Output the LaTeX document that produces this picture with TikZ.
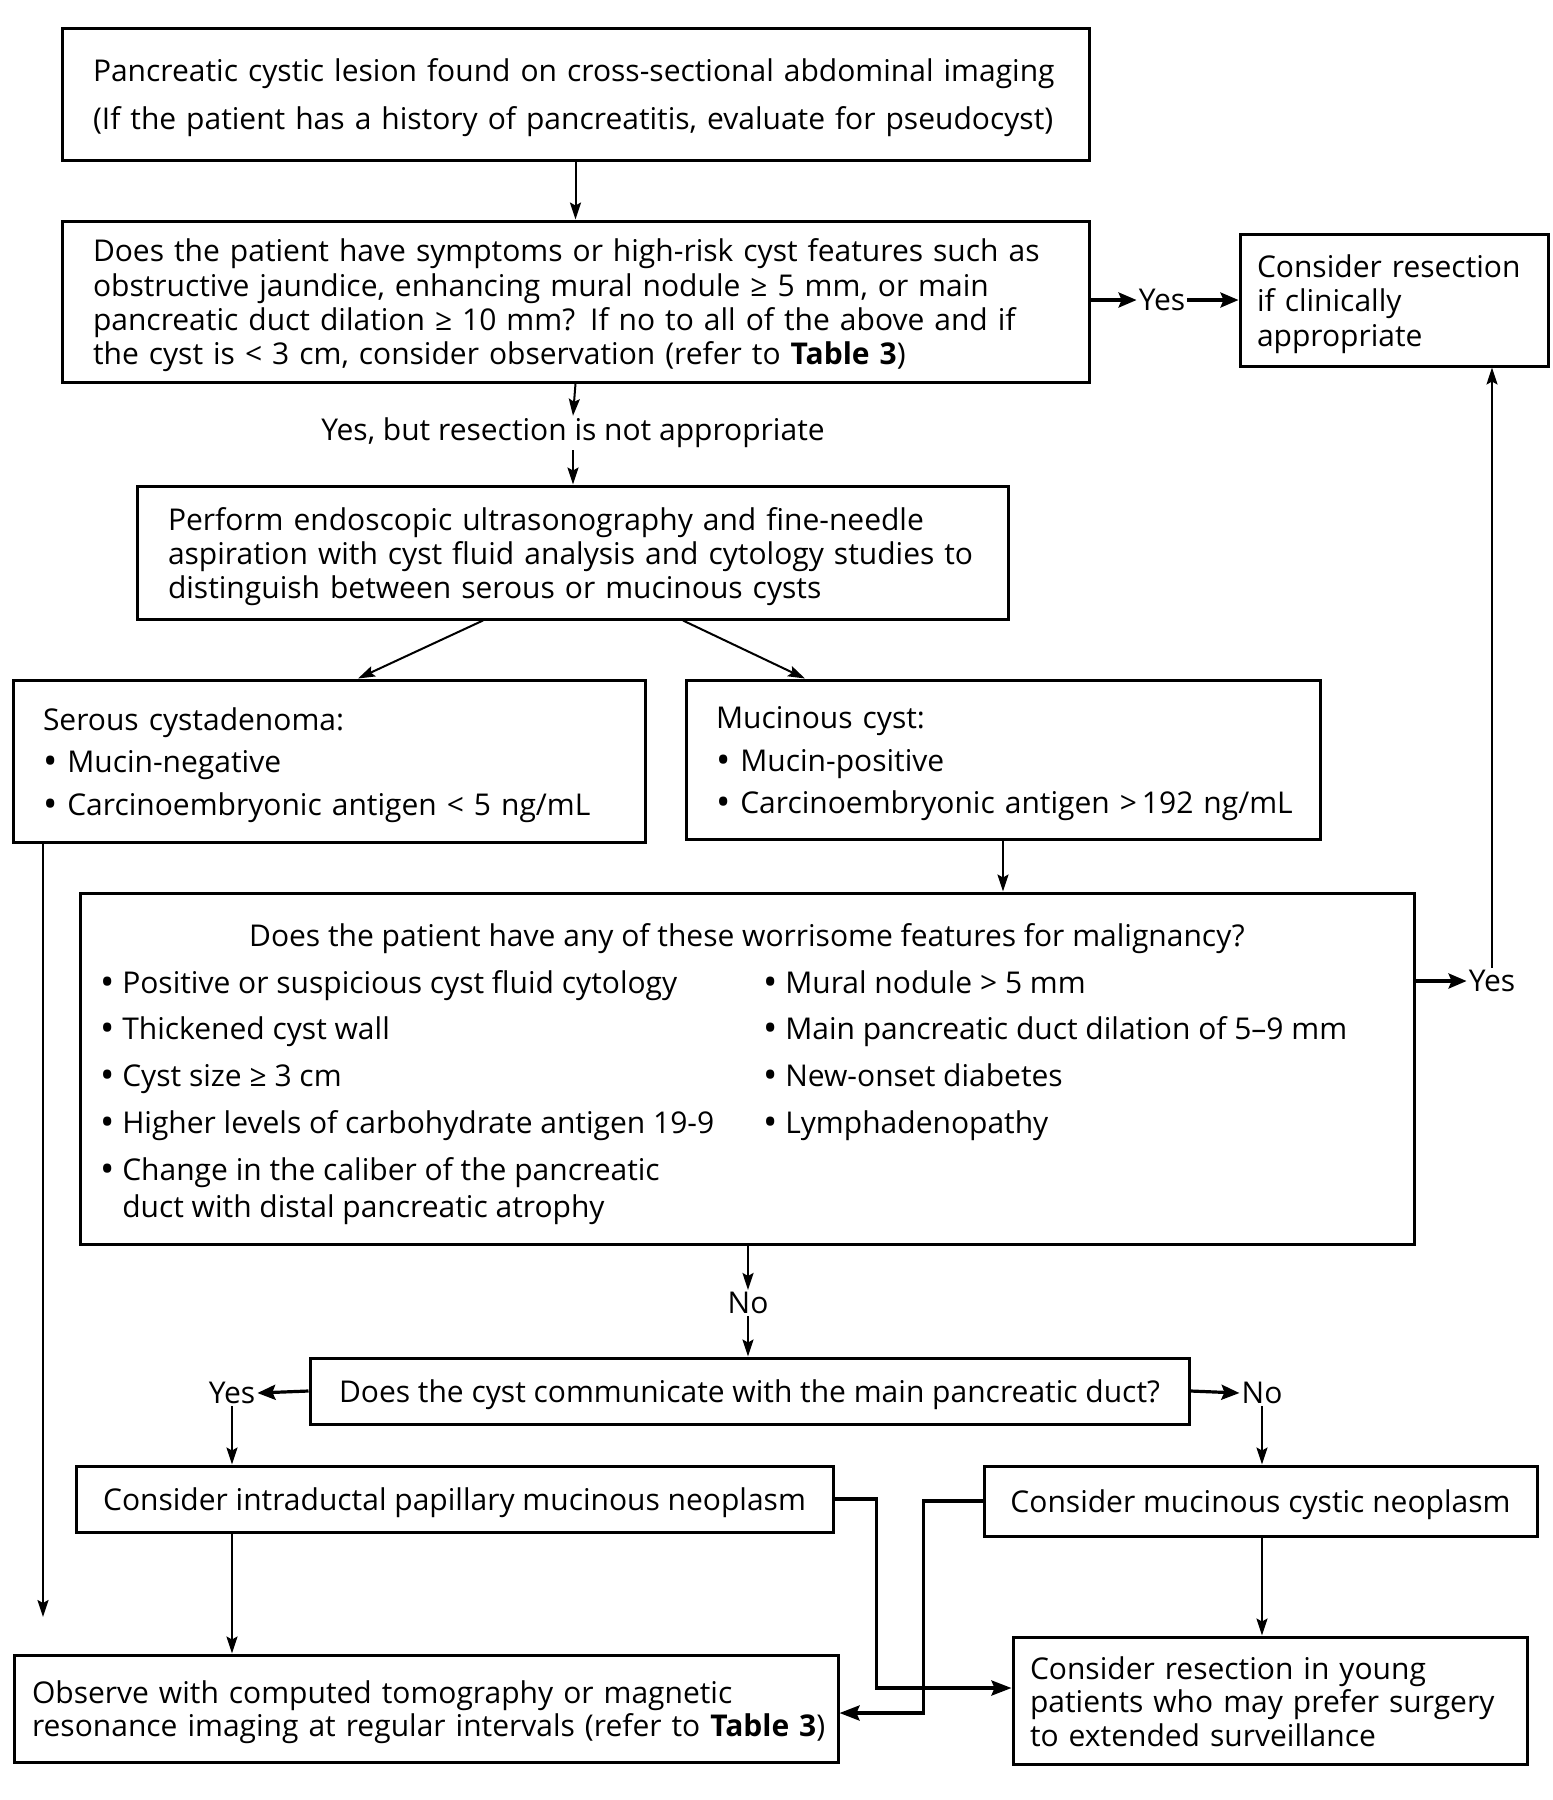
\documentclass[tikz,border=0pt]{standalone}
\usepackage{fontspec}
\setmainfont{Open Sans}
\usetikzlibrary{arrows.meta,calc}
\newcommand\bul{\raisebox{-2pt}{\fontsize{38}{0}\selectfont\textbullet}}
\newcommand\myln[1]{\mbox{#1}}
\newcommand\tp{\rule{0pt}{31pt}}
\begin{document}
\begin{tikzpicture}[x=1pt,y=-1pt,
  every node/.style={font=\fontsize{30}{34}\selectfont},
  box/.style={draw, line width=3pt, inner ysep=0pt, align=left},
  cbox/.style={draw, line width=3pt, inner ysep=0pt, inner xsep=0pt, align=center},
  lbl/.style={inner sep=2pt},
  arr/.style={line width=2pt, -{Stealth[length=17pt,width=11pt,inset=3pt]}},
  tarr/.style={line width=3.2pt, -{Stealth[length=18pt,width=15pt,inset=3pt]}},
  carr/.style={line width=3.5pt, -{Stealth[length=20pt,width=15pt,inset=3pt]}}]
\useasboundingbox (0,0) rectangle (1553,1800);

% boxes
\node[box, inner xsep=31pt, text width=965pt, minimum height=132pt,
  font=\fontsize{30}{48}\selectfont] (b1) at (575.5,94)
  {\tp\myln{Pancreatic cystic lesion found on cross-sectional abdominal imaging}\\\myln{(If the patient has a history of pancreatitis, evaluate for pseudocyst)}};
\node[box, inner xsep=31pt, text width=965pt, minimum height=161pt,
  font=\fontsize{30}{34.3}\selectfont] (b2) at (575.5,301.5)
  {\tp\myln{Does the patient have symptoms or high-risk cyst features such as}\\\myln{obstructive jaundice, enhancing mural nodule ≥ 5 mm, or main}\\\myln{pancreatic duct dilation ≥ 10 mm? If no to all of the above and if}\\\myln{the cyst is < 3 cm, consider observation (refer to \textbf{Table 3})}};
\node[box, inner xsep=17pt, text width=274pt, minimum height=132pt,
  font=\fontsize{30}{34.5}\selectfont] (b3) at (1394,300)
  {\tp\myln{Consider resection}\\\myln{if clinically}\\\myln{appropriate}};
\node[box, inner xsep=31pt, text width=809pt, minimum height=133pt,
  font=\fontsize{30}{34}\selectfont] (b4) at (572.5,552.5)
  {\tp\myln{Perform endoscopic ultrasonography and fine-needle}\\\myln{aspiration with cyst fluid analysis and cytology studies to}\\\myln{distinguish between serous or mucinous cysts}};
\node[box, inner xsep=30pt, text width=572pt, minimum height=162pt,
  font=\fontsize{30}{42.5}\selectfont] (b5) at (329,761)
  {\tp\myln{Serous cystadenoma:}\\\myln{\bul\ Mucin-negative}\\\myln{\bul\ Carcinoembryonic antigen < 5 ng/mL}};
\node[box, inner xsep=30pt, text width=574pt, minimum height=159pt,
  font=\fontsize{30}{42.5}\selectfont] (b6) at (1003,759.5)
  {\tp\myln{Mucinous cyst:}\\\myln{\bul\ Mucin-positive}\\\myln{\bul\ Carcinoembryonic antigen >\,192 ng/mL}};
\node[draw, line width=3pt, minimum width=1334pt, minimum height=351pt, inner sep=0pt] (b7) at (747,1068.5) {};
\node[lbl] (t7) at (747,939) {Does the patient have any of these worrisome features for malignancy?};
\node[lbl, anchor=north west, align=left, font=\fontsize{30}{46.8}\selectfont] (l7) at (98,968)
  {\bul\ Positive or suspicious cyst fluid cytology\\
   \bul\ Thickened cyst wall\\
   \bul\ Cyst size ≥ 3 cm\\
   \bul\ Higher levels of carbohydrate antigen 19-9\\
   \bul\ Change in the caliber of the pancreatic\\[-10pt]
   \hphantom{\bul\ }duct with distal pancreatic atrophy};
\node[lbl, anchor=north west, align=left, font=\fontsize{30}{46.8}\selectfont] (r7) at (761,968)
  {\bul\ Mural nodule > 5 mm\\
   \bul\ Main pancreatic duct dilation of 5–9 mm\\
   \bul\ New-onset diabetes\\
   \bul\ Lymphadenopathy};
\node[cbox, minimum width=879pt, minimum height=66pt] (b8) at (749.5,1391)
  {\tp Does the cyst communicate with the main pancreatic duct?};
\node[cbox, minimum width=757pt, minimum height=66pt] (b9) at (454.5,1499)
  {\tp Consider intraductal papillary mucinous neoplasm};
\node[cbox, minimum width=553pt, minimum height=70pt] (b10) at (1260.5,1501)
  {\tp Consider mucinous cystic neoplasm};
\node[box, inner xsep=18pt, text width=788pt, minimum height=107pt,
  font=\fontsize{30}{33}\selectfont] (b11) at (426,1708.5)
  {\tp\myln{Observe with computed tomography or magnetic}\\\myln{resonance imaging at regular intervals (refer to \textbf{Table 3})}};
\node[box, inner xsep=17pt, text width=480pt, minimum height=127pt,
  font=\fontsize{30}{33.5}\selectfont] (b12) at (1270,1700.5)
  {\rule{0pt}{25pt}\myln{Consider resection in young}\\\myln{patients who may prefer surgery}\\\myln{to extended surveillance}};

% labels
\node[lbl] (yes1) at (1162,300) {Yes};
\node[lbl] (yb) at (573,433) {Yes, but resection is not appropriate};
\node[lbl] (yes2) at (1492,981) {Yes};
\node[lbl] (no1) at (748,1303) {No};
\node[lbl] (yes3) at (232,1393) {Yes};
\node[lbl] (no2) at (1262,1393) {No};
\coordinate (sEnd) at (43,1617);

% connectors
\draw[arr] (b1.south) -- (b2.north);
\draw[arr] (b2.south) -- (yb.north);
\draw[arr] (yb.south) -- (yb.south |- b4.north);
\draw[tarr] (b2.east |- yes1) -- (yes1.west);
\draw[tarr] (yes1.east) -- (b3.west |- yes1);
\draw[arr] ($(b4.south)+(-89.5,0)$) -- ($(b5.north)+(29,0)$);
\draw[arr] ($(b4.south)+(110.5,0)$) -- ($(b6.north)+(-198,0)$);
\draw[arr] (b6.south) -- (b6.south |- b7.north);
\draw[arr] (b5.south -| sEnd) -- (sEnd);
\draw[tarr] (b7.east |- yes2) -- (yes2.west);
\draw[arr] (yes2.north) -- (yes2.north |- b3.south);
\draw[arr] (b7.south -| no1) -- (no1.north);
\draw[arr] (no1.south) -- (no1.south |- b8.north);
\draw[tarr] (b8.west) -- (yes3.east);
\draw[tarr] (b8.east) -- (no2.west);
\draw[arr] (yes3.south) -- (yes3.south |- b9.north);
\draw[arr] (no2.south) -- (no2.south |- b10.north);
\draw[arr] (yes3 |- b9.south) -- (yes3 |- b11.north);
\draw[arr] (no2 |- b10.south) -- (no2 |- b12.north);
\draw[carr] (b9.east) -- ++(42,0) |- ($(b12.west)+(0,-12.5)$);
\draw[carr] (b10.west) -- ++(-59,0) |- ($(b11.east)+(0,4.5)$);
\end{tikzpicture}
\end{document}
